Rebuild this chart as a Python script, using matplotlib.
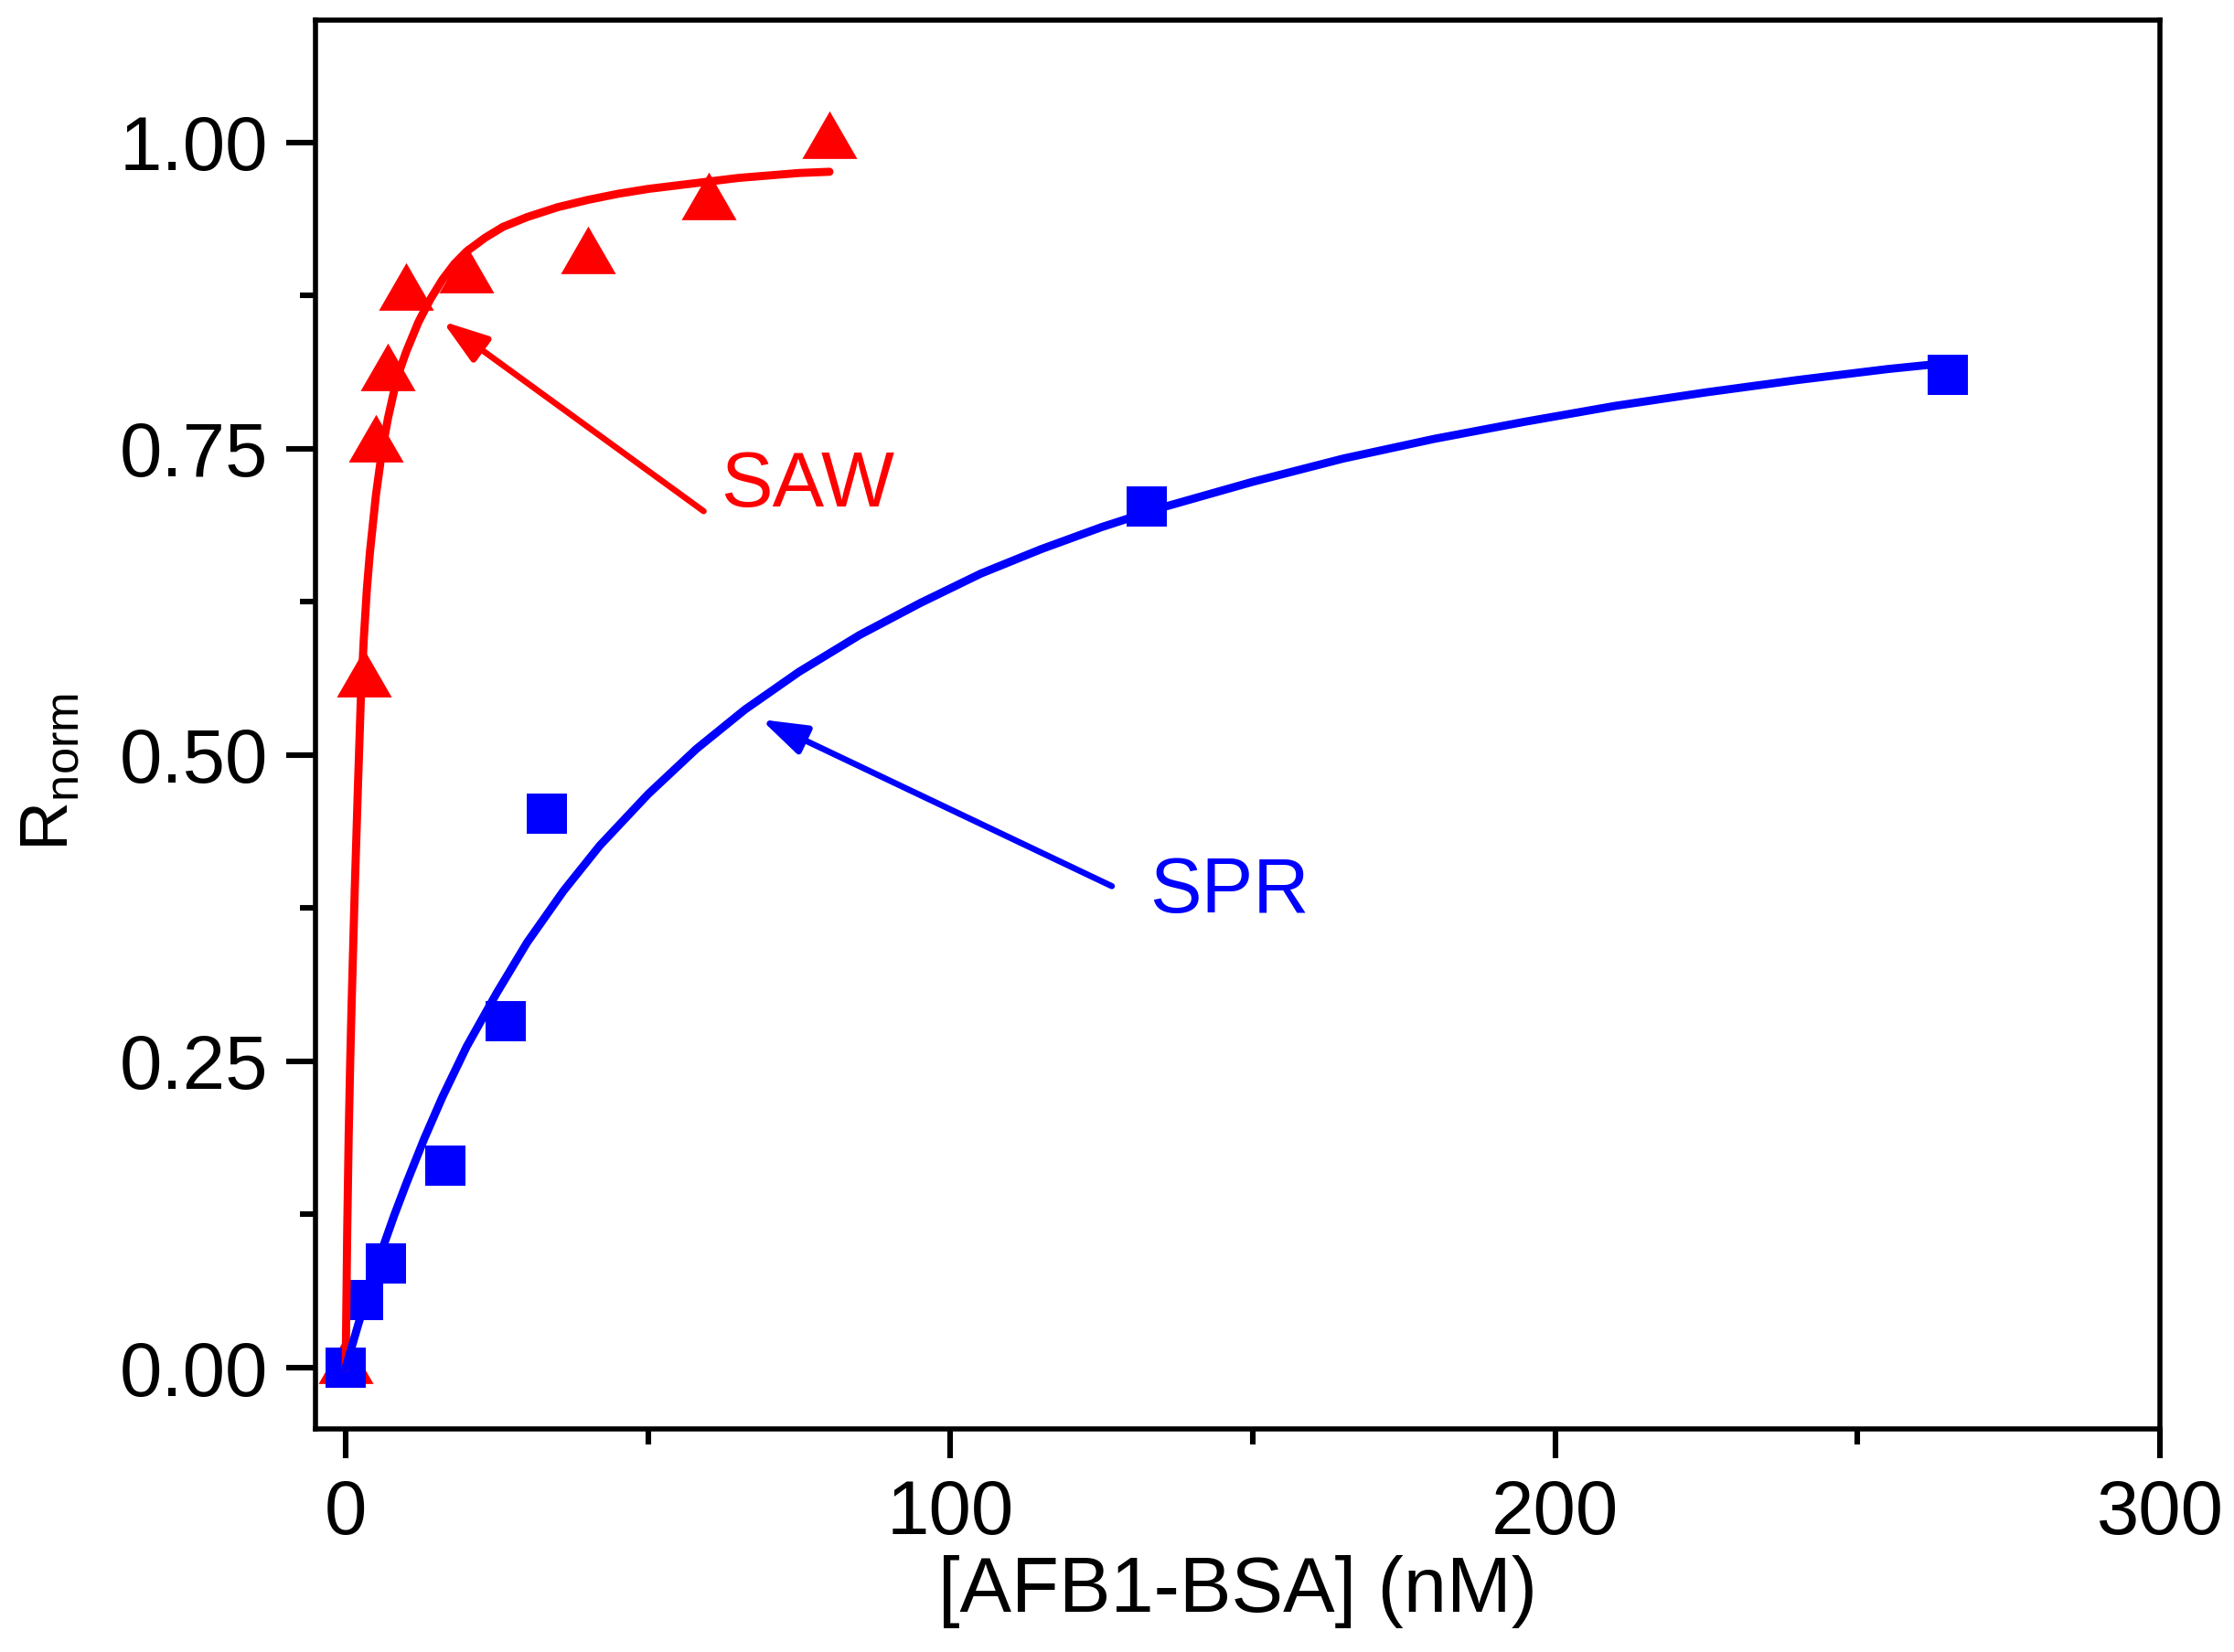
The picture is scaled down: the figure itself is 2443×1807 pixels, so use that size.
import matplotlib
matplotlib.use("Agg")
import matplotlib.pyplot as plt
from matplotlib.ticker import MultipleLocator, FormatStrFormatter

plt.rcParams['font.family'] = ['Liberation Sans', 'DejaVu Sans']
plt.rcParams['mathtext.fontset'] = 'custom'
plt.rcParams['mathtext.rm'] = 'Liberation Sans'

# measured points
saw_x = [0, 3, 5, 7, 10, 20, 40, 60, 80]
saw_y = [0, 0.56, 0.752, 0.81, 0.876, 0.89, 0.906, 0.95, 1.0]
spr_x = [0, 2.9, 6.6, 16.5, 26.5, 33.2, 132.4, 265]
spr_y = [0, 0.055, 0.085, 0.165, 0.283, 0.452, 0.703, 0.81]

# fitted curves
saw_fit_x = [0, 0.25, 0.5, 0.75, 1.0, 1.5, 2.0, 2.5, 3.0, 3.5, 4.0, 5, 6, 7, 8, 9, 10,
             12, 14, 16, 18, 20, 23, 26, 30, 35, 40, 45, 50, 55, 60, 65, 70, 75, 80]
saw_fit_y = [0, 0.11, 0.19, 0.25, 0.30, 0.39, 0.47, 0.545, 0.595, 0.635, 0.665, 0.712,
             0.748, 0.775, 0.797, 0.815, 0.829, 0.853, 0.872, 0.888, 0.901, 0.911, 0.922,
             0.931, 0.939, 0.947, 0.953, 0.958, 0.962, 0.965, 0.968, 0.971, 0.973, 0.975,
             0.976]
spr_fit_x = [0, 2, 4, 6, 8, 10, 13, 16, 20, 25, 30, 36, 42, 50, 58, 66, 75, 85, 95, 105,
             115, 125, 135, 150, 165, 180, 195, 210, 225, 240, 255, 265]
spr_fit_y = [0, 0.034, 0.066, 0.096, 0.124, 0.150, 0.187, 0.221, 0.262, 0.306, 0.347,
             0.389, 0.426, 0.468, 0.505, 0.537, 0.568, 0.598, 0.624, 0.648, 0.668, 0.686,
             0.702, 0.723, 0.742, 0.758, 0.772, 0.785, 0.796, 0.806, 0.815, 0.820]

red = '#FF0000'
blue = '#0000FF'
fs = 30

fig = plt.figure(figsize=(12.215, 9.035), dpi=200)
ax = fig.add_axes([0.1412, 0.135, 0.8256, 0.853])

# triangle with its centroid at the data point
tri = [(-30, -17.33), (30, -17.33), (0, 34.67), (-30, -17.33)]
ax.plot(saw_x, saw_y, linestyle='none', marker=tri, ms=25, color=red, mew=0, zorder=2)
ax.plot(spr_x, spr_y, linestyle='none', marker='s', ms=15.8, color=blue, mew=0, zorder=3)
ax.plot(saw_fit_x, saw_fit_y, color=red, lw=3.2, solid_capstyle='round',
        solid_joinstyle='round', zorder=4)
ax.plot(spr_fit_x, spr_fit_y, color=blue, lw=3.2, solid_capstyle='round',
        solid_joinstyle='round', zorder=4)

arrow = '-|>,head_length=15,head_width=5'
ax.annotate('', xy=(16.0, 0.854), xytext=(59.2, 0.699),
            arrowprops=dict(arrowstyle=arrow, color=red, lw=2.4, mutation_scale=1,
                            shrinkA=0, shrinkB=0, capstyle='round'))
ax.annotate('', xy=(68.7, 0.529), xytext=(126.7, 0.393),
            arrowprops=dict(arrowstyle=arrow, color=blue, lw=2.4, mutation_scale=1,
                            shrinkA=0, shrinkB=0, capstyle='round'))
ax.text(62.0, 0.7025, 'SAW', color=red, fontsize=30.5, ha='left', va='baseline')
ax.text(133.0, 0.3717, 'SPR', color=blue, fontsize=30.5, ha='left', va='baseline')

ax.set_xlim(-5, 300)
ax.set_ylim(-0.05, 1.1)
ax.xaxis.set_major_locator(MultipleLocator(100))
ax.xaxis.set_minor_locator(MultipleLocator(50))
ax.yaxis.set_major_locator(MultipleLocator(0.25))
ax.yaxis.set_minor_locator(MultipleLocator(0.125))
ax.yaxis.set_major_formatter(FormatStrFormatter('%.2f'))

for s in ax.spines.values():
    s.set_linewidth(2)
ax.tick_params(which='both', direction='out', top=False, right=False, width=2.2)
ax.tick_params(which='major', length=11.5, labelsize=fs)
ax.tick_params(which='minor', length=6)
ax.tick_params(axis='x', which='major', pad=8)
ax.tick_params(axis='y', which='major', pad=7)

ax.set_xlabel('[AFB1-BSA] (nM)', fontsize=30.5, labelpad=2)
ax.set_ylabel(r'R$_{\mathregular{norm}}$', fontsize=27)
ax.yaxis.set_label_coords(-0.127, 0.466)

fig.savefig('out.png', dpi=200)
